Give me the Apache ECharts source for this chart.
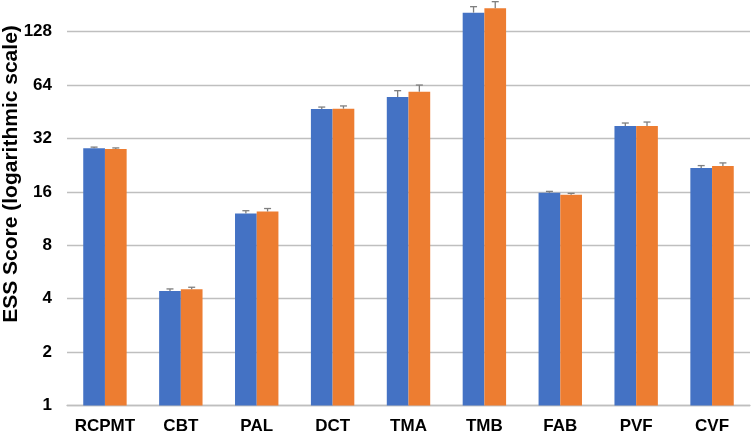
<!DOCTYPE html>
<html>
<head>
<meta charset="utf-8">
<script src="https://cdn.jsdelivr.net/npm/echarts@6/dist/echarts.min.js"></script>
<style>
html,body{margin:0;padding:0;background:#fff;}
#c{width:752px;height:434px;}
</style>
</head>
<body>
<div id="c"></div>
<script>
var categories = ['RCPMT','CBT','PAL','DCT','TMA','TMB','FAB','PVF','CVF'];
var seriesA = [28.2, 4.42, 12.1, 46.9, 54.8, 163.8, 15.8, 37.6, 21.8];
var seriesB = [27.9, 4.52, 12.4, 47.1, 58.7, 173.4, 15.4, 37.6, 22.4];
var errorA = [0.4, 0.12, 0.43, 1.2, 4.7, 13.2, 0.3, 1.5, 0.7];
var errorB = [0.4, 0.12, 0.49, 1.7, 5.3, 15.5, 0.3, 2.0, 0.9];
var yTitle = 'ESS Score (logarithmic scale)';
var yMin = 1;
var yMax = 193;

var BAR_FRAC = 0.286;
var font = '"Liberation Sans", Arial, sans-serif';

function isPow2(v) {
  var l = Math.log(v) / Math.LN2;
  return Math.abs(l - Math.round(l)) < 1e-6;
}

function errSeries(vals, errs, side) {
  return {
    type: 'custom',
    z: 5,
    data: vals.map(function (v, i) { return [i, v, errs[i]]; }),
    encode: { x: 0, y: 1 },
    renderItem: function (params, api) {
      var i = api.value(0), v = api.value(1), e = api.value(2);
      var bw = api.size([1, 0])[0];
      var off = side * bw * BAR_FRAC / 2;
      var p0 = api.coord([i, v]);
      var p1 = api.coord([i, v + e]);
      var x = p0[0] + off;
      var cap = 3.5;
      var style = { stroke: '#7f7f7f', lineWidth: 1.3 };
      return {
        type: 'group',
        children: [
          { type: 'line', shape: { x1: x, y1: p0[1], x2: x, y2: p1[1] }, style: style },
          { type: 'line', shape: { x1: x - cap, y1: p1[1], x2: x + cap, y2: p1[1] }, style: style }
        ]
      };
    }
  };
}

var chart = echarts.init(document.getElementById('c'), null, { renderer: 'canvas' });
chart.setOption({
  animation: false,
  backgroundColor: '#ffffff',
  grid: { left: 67, right: 2, top: 0, bottom: 28.5, containLabel: false, outerBoundsMode: 'none' },
  xAxis: {
    type: 'category',
    data: categories,
    axisLine: { lineStyle: { color: '#bfbfbf', width: 1.3 } },
    axisTick: { show: false },
    axisLabel: { color: '#000', fontFamily: font, fontWeight: 'bold', fontSize: 17, margin: 12, interval: 0 }
  },
  yAxis: {
    type: 'log',
    logBase: 2,
    min: yMin,
    max: yMax,
    axisLine: { show: false },
    axisTick: { show: false },
    splitLine: { showMaxLine: false, lineStyle: { color: '#bfbfbf', width: 1.3 } },
    axisLabel: {
      color: '#000', fontFamily: font, fontWeight: 'bold', fontSize: 17, margin: 15,
      showMaxLabel: false,
      formatter: function (v) { return isPow2(v) ? String(Math.round(v)) : ''; }
    }
  },
  graphic: [{
    type: 'text',
    x: 11,
    y: 174,
    rotation: Math.PI / 2,
    style: {
      text: yTitle,
      fontFamily: font,
      fontWeight: 'bold',
      fontSize: 21,
      fill: '#000',
      textAlign: 'center',
      textVerticalAlign: 'middle'
    }
  }],
  series: [
    {
      type: 'bar', data: seriesA, barWidth: (BAR_FRAC * 100) + '%', barGap: '0%',
      itemStyle: { color: '#4472C4' }
    },
    {
      type: 'bar', data: seriesB, barWidth: (BAR_FRAC * 100) + '%', barGap: '0%',
      itemStyle: { color: '#ED7D31' }
    },
    errSeries(seriesA, errorA, -1),
    errSeries(seriesB, errorB, 1)
  ]
});
</script>
</body>
</html>
